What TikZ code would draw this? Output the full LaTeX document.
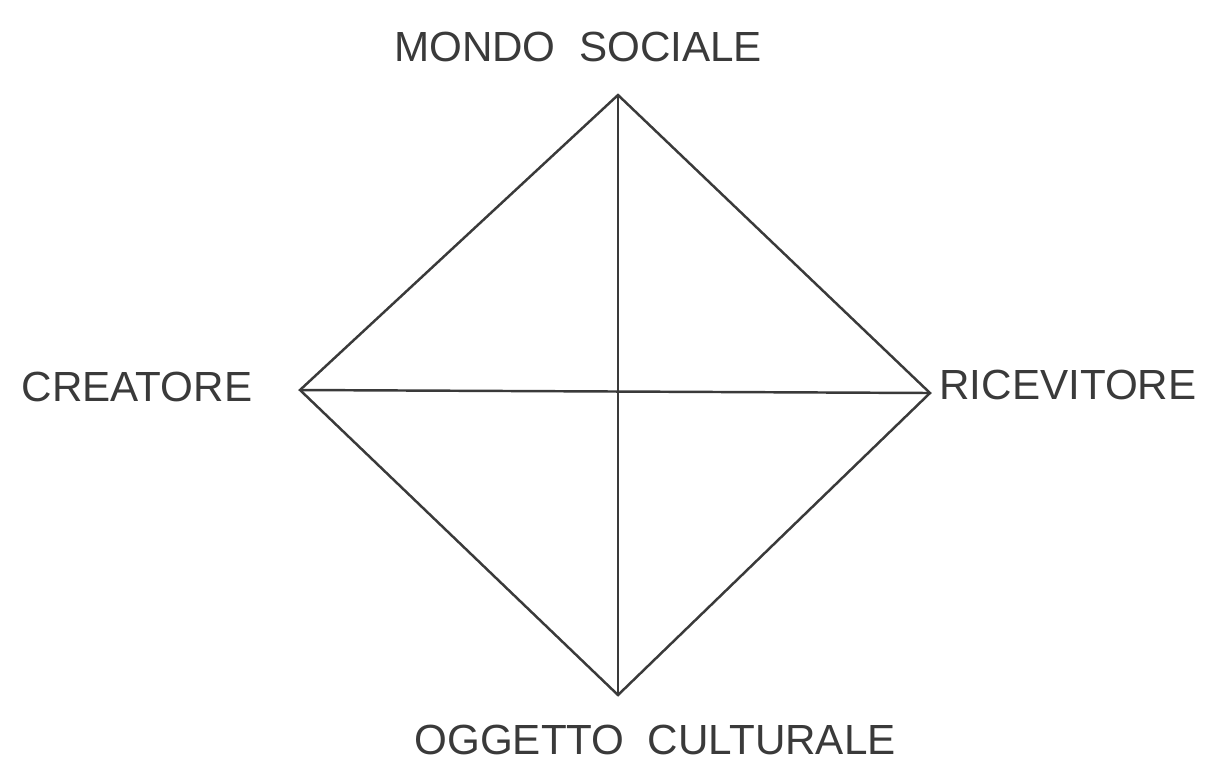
\documentclass[tikz,border=0pt]{standalone}
\usepackage{fontspec}
\setmainfont{Liberation Sans}
\definecolor{pencil}{HTML}{3A3A3A}
\begin{document}
\begin{tikzpicture}[x=0.02cm,y=-0.02cm,
  edge/.style={draw=pencil,line width=1.4pt},
  lbl/.style={text=pencil,font=\fontsize{24}{28}\selectfont,inner sep=0pt}]
\fill[white] (0,0) rectangle (1212,762);
\useasboundingbox (0,0) rectangle (1212,762);
\coordinate (T) at (618,95);
\coordinate (L) at (300,390);
\coordinate (R) at (930,393);
\coordinate (B) at (618,695);
\draw[edge] (T) -- (R) -- (B) -- (L) -- cycle;
\draw[edge] (T) -- (B);
\draw[edge] (L) -- (R);
\node[lbl] (ms) at (578,47) {MONDO\ \ SOCIALE};
\node[lbl] (cr) at (137,387) {CREATORE};
\node[lbl] (ri) at (1068,385) {RICEVITORE};
\node[lbl] (oc) at (655,740) {OGGETTO\ \ CULTURALE};
\end{tikzpicture}
\end{document}
